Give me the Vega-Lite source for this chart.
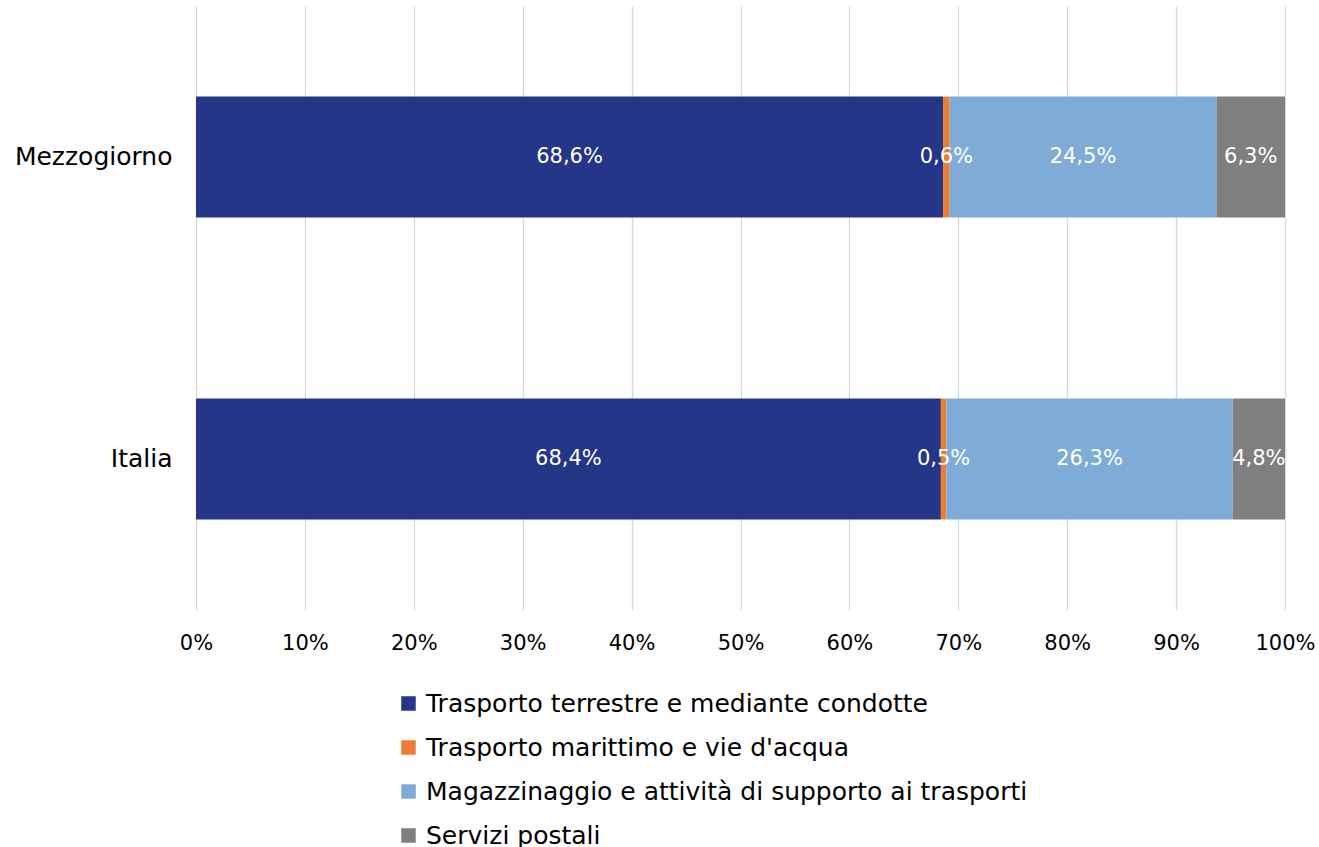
{
  "$schema": "https://vega.github.io/schema/vega-lite/v6.json",
  "width": 1089,
  "height": 604,
  "autosize": {"type": "none"},
  "padding": {"left": 196, "top": 6, "right": 34, "bottom": 237},
  "background": "white",
  "config": {
    "locale": {"number": {"decimal": ",", "thousands": ".", "grouping": [3], "currency": ["", " €"]}},
    "font": "DejaVu Sans",
    "view": {"stroke": null}
  },
  "data": {
    "values": [
      {"area": "Mezzogiorno", "settore": "Trasporto terrestre e mediante condotte", "ord": 1, "v": 0.686},
      {"area": "Mezzogiorno", "settore": "Trasporto marittimo e vie d'acqua", "ord": 2, "v": 0.006},
      {"area": "Mezzogiorno", "settore": "Magazzinaggio e attività di supporto ai trasporti", "ord": 3, "v": 0.245},
      {"area": "Mezzogiorno", "settore": "Servizi postali", "ord": 4, "v": 0.063},
      {"area": "Italia", "settore": "Trasporto terrestre e mediante condotte", "ord": 1, "v": 0.684},
      {"area": "Italia", "settore": "Trasporto marittimo e vie d'acqua", "ord": 2, "v": 0.005},
      {"area": "Italia", "settore": "Magazzinaggio e attività di supporto ai trasporti", "ord": 3, "v": 0.263},
      {"area": "Italia", "settore": "Servizi postali", "ord": 4, "v": 0.048}
    ]
  },
  "transform": [
    {"stack": "v", "groupby": ["area"], "sort": [{"field": "ord"}], "as": ["x0", "x1"]},
    {"calculate": "(datum.x0 + datum.x1) / 2", "as": "xm"}
  ],
  "encoding": {
    "y": {
      "field": "area", "type": "nominal", "sort": ["Mezzogiorno", "Italia"],
      "scale": {"paddingInner": 0.6, "paddingOuter": 0.3},
      "axis": {"title": null, "domain": false, "ticks": false, "labelFontSize": 25, "labelColor": "#000000", "labelPadding": 24, "labelFont": "DejaVu Sans"}
    }
  },
  "layer": [
    {
      "mark": {"type": "bar"},
      "encoding": {
        "x": {
          "field": "x0", "type": "quantitative",
          "scale": {"domain": [0, 1], "nice": false},
          "axis": {"title": null, "format": ".0%", "values": [0,0.1,0.2,0.3,0.4,0.5,0.6,0.7,0.8,0.9,1], "labelOverlap": false, "labelFlush": false, "domain": false, "ticks": false, "grid": true, "gridColor": "#D9D9D9", "gridWidth": 1.3, "labelFontSize": 21, "labelColor": "#000000", "labelPadding": 22, "labelFont": "DejaVu Sans"}
        },
        "x2": {"field": "x1"},
        "color": {
          "field": "settore", "type": "nominal",
          "sort": ["Trasporto terrestre e mediante condotte", "Trasporto marittimo e vie d'acqua", "Magazzinaggio e attività di supporto ai trasporti", "Servizi postali"],
          "scale": {
            "domain": ["Trasporto terrestre e mediante condotte", "Trasporto marittimo e vie d'acqua", "Magazzinaggio e attività di supporto ai trasporti", "Servizi postali"],
            "range": ["#253588", "#ED7D31", "#7EACD6", "#7F7F7F"]
          },
          "legend": {
            "title": null, "orient": "none", "legendX": 200, "legendY": 685, "direction": "vertical",
            "symbolType": "square", "symbolSize": 210, "symbolStrokeWidth": 0, "symbolOpacity": 1,
            "labelFontSize": 25, "labelColor": "#000000", "labelFont": "DejaVu Sans", "labelLimit": 900,
            "rowPadding": 18, "labelOffset": 5
          }
        },
        "order": {"field": "ord"}
      }
    },
    {
      "mark": {"type": "text", "color": "#FFFFFF", "fontSize": 21, "font": "DejaVu Sans", "baseline": "middle", "align": "center"},
      "encoding": {
        "x": {"field": "xm", "type": "quantitative"},
        "text": {"field": "v", "type": "quantitative", "format": ".1%"}
      }
    }
  ]
}
